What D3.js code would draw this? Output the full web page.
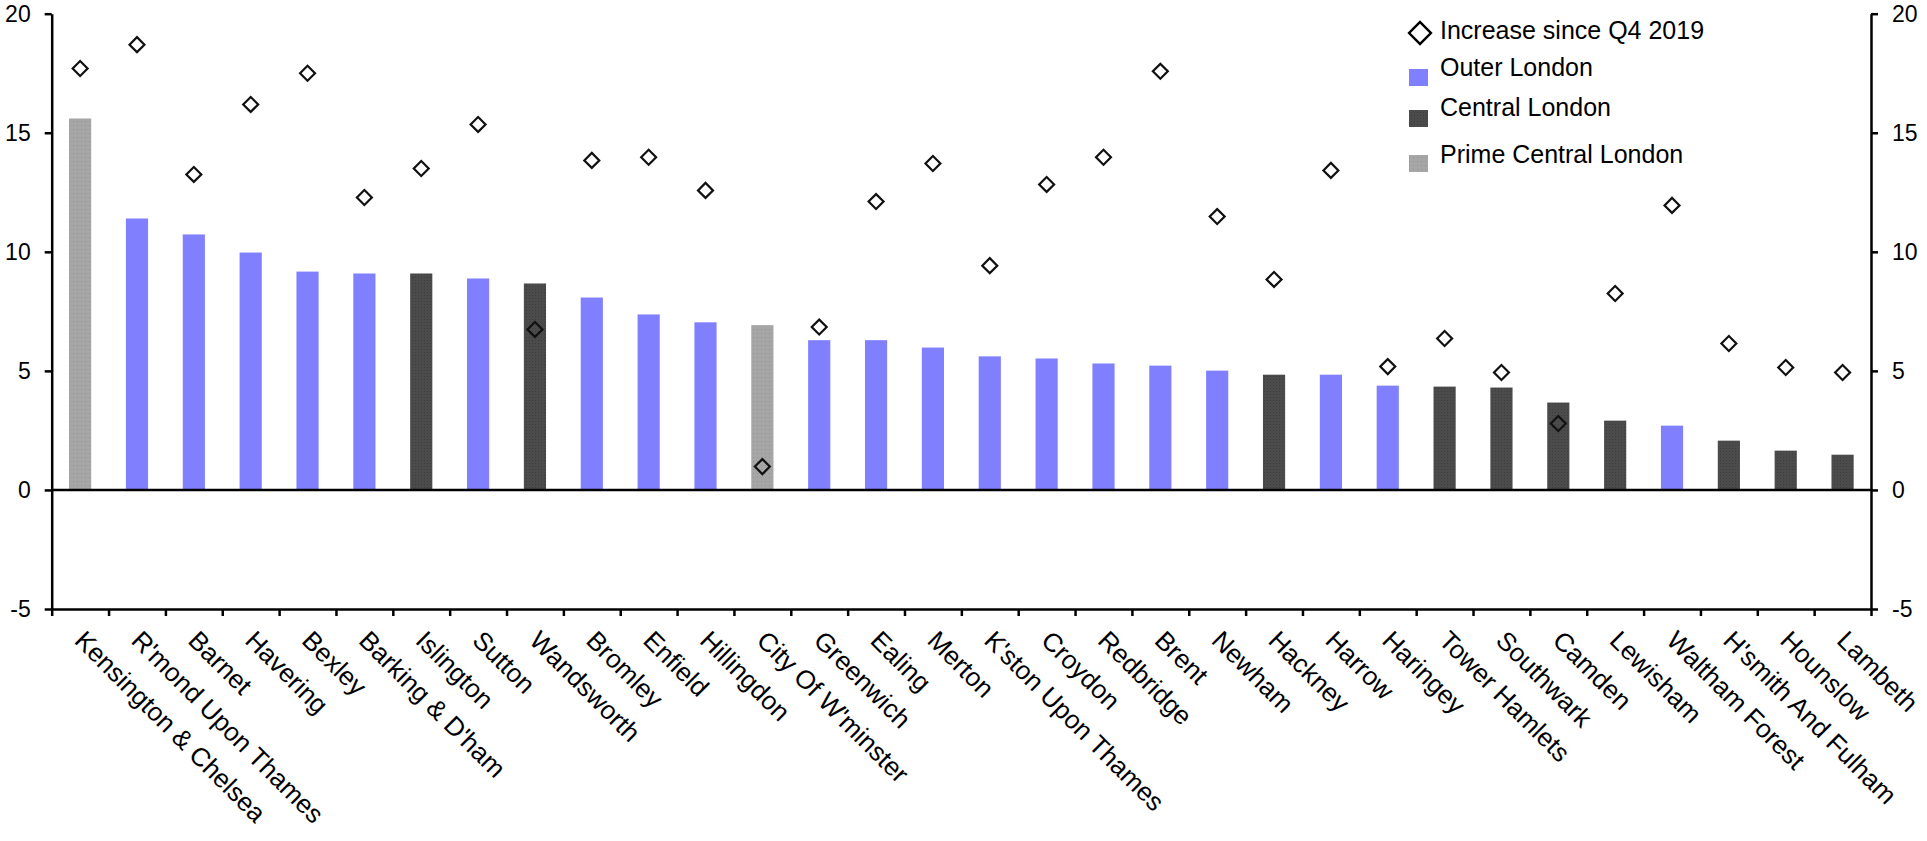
<!DOCTYPE html>
<html>
<head>
<meta charset="utf-8">
<script src="https://cdn.jsdelivr.net/npm/d3@7"></script>
<style>
  html, body { margin: 0; padding: 0; background: #fff; }
  svg { display: block; font-family: "Liberation Sans", Arial, sans-serif; }
</style>
</head>
<body>
<svg id="chart" width="1927" height="841"></svg>
<script>
/// data ///
const boroughs = [
  "Kensington & Chelsea", "R'mond Upon Thames", "Barnet", "Havering", "Bexley",
  "Barking & D'ham", "Islington", "Sutton", "Wandsworth", "Bromley", "Enfield",
  "Hillingdon", "City Of W'minster", "Greenwich", "Ealing", "Merton",
  "K'ston Upon Thames", "Croydon", "Redbridge", "Brent", "Newham", "Hackney",
  "Harrow", "Haringey", "Tower Hamlets", "Southwark", "Camden", "Lewisham",
  "Waltham Forest", "H'smith And Fulham", "Hounslow", "Lambeth"
];
const regions = [
  "prime", "outer", "outer", "outer", "outer",
  "outer", "central", "outer", "central", "outer", "outer",
  "outer", "prime", "outer", "outer", "outer",
  "outer", "outer", "outer", "outer", "outer", "central",
  "outer", "outer", "central", "central", "central", "central",
  "outer", "central", "central", "central"
];
// bar values
const recentChange = [
  15.6, 11.4, 10.73, 9.97, 9.17,
  9.09, 9.09, 8.88, 8.67, 8.08, 7.37,
  7.04, 6.92, 6.29, 6.29, 5.98,
  5.61, 5.52, 5.31, 5.22, 5.01, 4.84,
  4.84, 4.38, 4.34, 4.30, 3.67, 2.91,
  2.70, 2.07, 1.65, 1.48
];
// diamonds: increase since Q4 2019
const increaseSinceQ4 = [
  17.7, 18.7, 13.25, 16.19, 17.5,
  12.28, 13.5, 15.35, 6.74, 13.84, 13.97,
  12.58, 0.98, 6.84, 12.11, 13.71,
  9.42, 12.83, 13.97, 17.58, 11.48, 8.84,
  13.42, 5.18, 6.36, 4.93, 2.79, 8.25,
  11.95, 6.15, 5.14, 4.93
];
const yTicks = [-5, 0, 5, 10, 15, 20];
const legendLabels = ["Increase since Q4 2019", "Outer London", "Central London", "Prime Central London"];

/// constants ///
const plotLeft = 51.7, plotRight = 1871, plotTop = 13.7, plotBottom = 609;
const fillColours = { outer: "url(#outerFill)", central: "url(#centralFill)", prime: "url(#primeFill)" };
const tickFont = "23px";
const labelFont = "26px";
const legendFont = "25px";

const svg = d3.select("#chart");

// textures roughly like the source (dotted grey, noisy dark grey)
const defs = svg.append("defs");
const outerP = defs.append("pattern").attr("id", "outerFill")
  .attr("patternUnits", "userSpaceOnUse").attr("width", 4).attr("height", 4);
outerP.append("rect").attr("width", 4).attr("height", 4).attr("fill", "#8080ff");
const centralP = defs.append("pattern").attr("id", "centralFill")
  .attr("patternUnits", "userSpaceOnUse").attr("width", 3).attr("height", 3);
centralP.append("rect").attr("width", 3).attr("height", 3).attr("fill", "#4b4b4b");
centralP.append("rect").attr("x", 1).attr("y", 1).attr("width", 1).attr("height", 1).attr("fill", "#3d3d3d");
const primeP = defs.append("pattern").attr("id", "primeFill")
  .attr("patternUnits", "userSpaceOnUse").attr("width", 4).attr("height", 4);
primeP.append("rect").attr("width", 4).attr("height", 4).attr("fill", "#a6a6a6");
primeP.append("rect").attr("x", 1).attr("y", 1).attr("width", 1).attr("height", 1).attr("fill", "#929292");

/// scales ///
const x = d3.scaleBand()
  .domain(boroughs)
  .range([plotLeft, plotRight])
  .paddingInner(0.61)
  .paddingOuter(0.305);
const slot = d3.scaleLinear().domain([0, boroughs.length]).range([plotLeft, plotRight]);
const y = d3.scaleLinear().domain([-5, 20]).range([plotBottom, plotTop]);

const rows = boroughs.map((b, i) => ({
  name: b, region: regions[i], bar: recentChange[i], inc: increaseSinceQ4[i]
}));

/// bars ///
svg.append("g")
  .selectAll("rect")
  .data(rows)
  .join("rect")
    .attr("x", d => x(d.name))
    .attr("width", x.bandwidth())
    .attr("y", d => y(Math.max(0, d.bar)))
    .attr("height", d => Math.abs(y(d.bar) - y(0)))
    .attr("fill", d => fillColours[d.region]);

/// zero line ///
svg.append("line")
  .attr("x1", plotLeft).attr("x2", plotRight)
  .attr("y1", y(0)).attr("y2", y(0))
  .attr("stroke", "#000").attr("stroke-width", 2.5);

/// axes ///
const styleAxis = g => g
  .call(g => g.select(".domain").attr("stroke", "#000").attr("stroke-width", 2.5))
  .call(g => g.selectAll(".tick line").attr("stroke", "#000").attr("stroke-width", 2.5))
  .call(g => g.selectAll(".tick text").attr("fill", "#000").attr("font-size", tickFont)
    .attr("font-family", "Liberation Sans, Arial, sans-serif"));

// plain hyphen for negatives, like the source
const fmt = d => String(d);

svg.append("g")
  .attr("transform", `translate(${plotLeft},0)`)
  .call(d3.axisLeft(y).tickValues(yTicks).tickFormat(fmt).tickSize(7).tickSizeOuter(0).tickPadding(14))
  .call(styleAxis);

svg.append("g")
  .attr("transform", `translate(${plotRight},0)`)
  .call(d3.axisRight(y).tickValues(yTicks).tickFormat(fmt).tickSize(7).tickSizeOuter(0).tickPadding(14))
  .call(styleAxis);

svg.append("g")
  .attr("transform", `translate(0,${plotBottom})`)
  .call(d3.axisBottom(slot).tickValues(d3.range(boroughs.length + 1)).tickFormat("").tickSize(7).tickSizeOuter(0))
  .call(styleAxis);

// category labels, slanted down to the right
svg.append("g")
  .selectAll("text")
  .data(rows)
  .join("text")
    .attr("transform", d => `translate(${x(d.name) + x.bandwidth() / 2 - 7},${plotBottom + 33}) rotate(45)`)
    .attr("text-anchor", "start")
    .attr("font-size", labelFont)
    .attr("fill", "#000")
    .text(d => d.name);

/// diamonds ///
const diamond = d3.symbol().type(d3.symbolSquare).size(112);
svg.append("g")
  .selectAll("path")
  .data(rows)
  .join("path")
    .attr("d", diamond)
    .attr("transform", d => `translate(${x(d.name) + x.bandwidth() / 2},${y(d.inc)}) rotate(45)`)
    .attr("fill", "none")
    .attr("stroke", "#111")
    .attr("stroke-width", 2.2);

/// legend ///
const legend = svg.append("g");
const legendY = [39, 76, 116, 163];
legend.append("path")
  .attr("d", d3.symbol().type(d3.symbolSquare).size(240))
  .attr("transform", "translate(1420,33) rotate(45)")
  .attr("fill", "none").attr("stroke", "#000").attr("stroke-width", 2.4);
const swatchKeys = ["outer", "central", "prime"];
const swatchTop = [69, 110, 155];
swatchKeys.forEach((k, i) => {
  legend.append("rect")
    .attr("x", 1409).attr("y", swatchTop[i])
    .attr("width", 19).attr("height", 17)
    .attr("fill", fillColours[k]);
});
legend.selectAll("text")
  .data(legendLabels)
  .join("text")
    .attr("x", 1440)
    .attr("y", (d, i) => legendY[i])
    .attr("font-size", legendFont)
    .attr("fill", "#000")
    .text(d => d);
</script>
</body>
</html>
